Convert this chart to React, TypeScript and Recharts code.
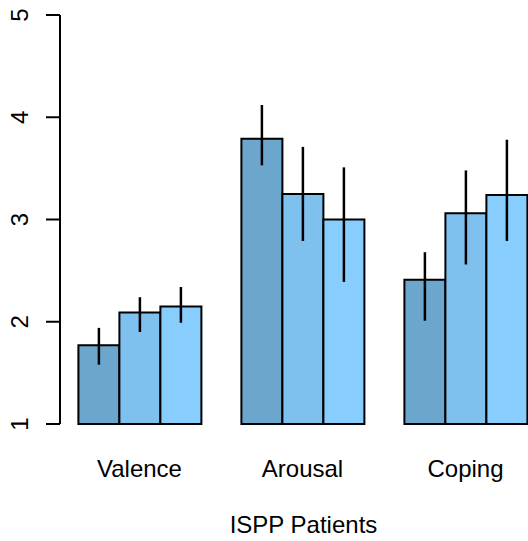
import React from 'react';
import { BarChart, Bar, XAxis, YAxis, ErrorBar } from 'recharts';

const categories = ['Valence', 'Arousal', 'Coping'];

// mean of each of the three bars per group, with the low / high ends of the error lines
const bar1Mean = [1.77, 3.79, 2.41];
const bar1Low = [1.58, 3.53, 2.01];
const bar1High = [1.94, 4.12, 2.68];

const bar2Mean = [2.09, 3.25, 3.06];
const bar2Low = [1.9, 2.79, 2.56];
const bar2High = [2.24, 3.71, 3.48];

const bar3Mean = [2.15, 3.0, 3.24];
const bar3Low = [1.99, 2.39, 2.79];
const bar3High = [2.34, 3.51, 3.78];

const yTicks = [1, 2, 3, 4, 5];
const xLabel = 'ISPP Patients';

const data = categories.map((name, i) => ({
  name,
  b1: bar1Mean[i],
  e1: [bar1Mean[i] - bar1Low[i], bar1High[i] - bar1Mean[i]],
  b2: bar2Mean[i],
  e2: [bar2Mean[i] - bar2Low[i], bar2High[i] - bar2Mean[i]],
  b3: bar3Mean[i],
  e3: [bar3Mean[i] - bar3Low[i], bar3High[i] - bar3Mean[i]],
}));

const FONT = '"Liberation Sans", Arial, sans-serif';

const YTick = (props: any) => {
  const { x, y, payload } = props;
  const tx = x - 16;
  return (
    <text
      x={tx}
      y={y}
      transform={`rotate(-90, ${tx}, ${y})`}
      textAnchor="middle"
      fontFamily={FONT}
      fontSize={24}
      fill="#000"
    >
      {payload.value}
    </text>
  );
};

const XTick = (props: any) => {
  const { x, y, payload } = props;
  return (
    <text x={x} y={y} dy={53} textAnchor="middle" fontFamily={FONT} fontSize={24} fill="#000">
      {payload.value}
    </text>
  );
};

export default function App() {
  return (
    <div
      style={{
        position: 'absolute',
        left: 0,
        top: 0,
        width: 528,
        height: 541,
        overflow: 'hidden',
        background: '#fff',
      }}
    >
      <BarChart
        width={547}
        height={541}
        data={data}
        margin={{ top: 15, right: 0, left: 14, bottom: 0 }}
        barCategoryGap={20.4}
        barGap={0}
      >
        <XAxis
          dataKey="name"
          height={117}
          axisLine={false}
          tickLine={false}
          tickSize={0}
          tickMargin={0}
          padding={{ left: -2, right: 0 }}
          tick={<XTick />}
          label={{
            value: xLabel,
            position: 'insideBottom',
            offset: 8,
            fontFamily: FONT,
            fontSize: 24,
            fill: '#000',
          }}
        />
        <YAxis
          width={46}
          domain={[1, 5]}
          ticks={yTicks}
          interval={0}
          axisLine={{ stroke: '#000', strokeWidth: 2 }}
          tickLine={{ stroke: '#000', strokeWidth: 2 }}
          tickSize={14}
          tickMargin={2}
          tick={<YTick />}
        />
        <Bar dataKey="b1" fill="#6CA6CD" stroke="#000" strokeWidth={2} isAnimationActive={false}>
          <ErrorBar dataKey="e1" width={0} stroke="#000" strokeWidth={2.5} />
        </Bar>
        <Bar dataKey="b2" fill="#7EC0EE" stroke="#000" strokeWidth={2} isAnimationActive={false}>
          <ErrorBar dataKey="e2" width={0} stroke="#000" strokeWidth={2.5} />
        </Bar>
        <Bar dataKey="b3" fill="#87CEFF" stroke="#000" strokeWidth={2} isAnimationActive={false}>
          <ErrorBar dataKey="e3" width={0} stroke="#000" strokeWidth={2.5} />
        </Bar>
      </BarChart>
    </div>
  );
}
